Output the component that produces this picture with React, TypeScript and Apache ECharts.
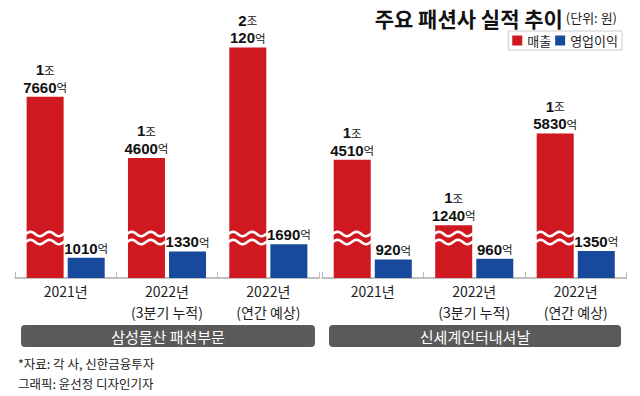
import React, { useEffect, useRef } from 'react';
import * as echarts from 'echarts';

const categories = ['2021년', '2022년\n(3분기 누적)', '2022년\n(연간 예상)'];
const samsungSales = [17660, 14600, 20120];
const samsungProfit = [1010, 1330, 1690];
const shinsegaeSales = [14510, 11240, 15830];
const shinsegaeProfit = [920, 960, 1350];
const panelNames = ['삼성물산 패션부문', '신세계인터내셔날'];
const seriesNames = ['매출', '영업이익'];
const titleText = '주요 패션사 실적 추이';
const unitText = '(단위: 원)';
const sourceLines = ['*자료: 각 사, 신한금융투자', '그래픽: 윤선정 디자인기자'];
const breakStart = 2000;
const breakEnd = 10600;
const axisMax = 21000;

const RED = '#cf1820';
const BLUE = '#17499c';
const KR = "'Noto Sans CJK KR', 'Noto Sans', sans-serif";
const NUM = "'Liberation Sans', Arial, sans-serif";

function salesLabel(v: number): string {
  const jo = Math.floor(v / 10000);
  const eok = v % 10000;
  return `{n|${jo}}{u|조}\n{n|${eok}}{u|억}`;
}
function profitLabel(v: number): string {
  return `{n|${v}}{u|억}`;
}

const rich = {
  n: { fontSize: 15, fontWeight: 'bold', fontFamily: NUM, color: '#111', lineHeight: 17.5 },
  u: { fontSize: 11.5, fontFamily: KR, color: '#111', lineHeight: 17.5 },
};

const BAR_W = 37;
const RED_OFFSET = -20.5;

function waveRender(params: any, api: any) {
  const idx = api.value(0);
  const p = api.coord([idx, breakStart]);
  const cx = p[0] + RED_OFFSET;
  const half = 19.5;
  const top: number[][] = [];
  const bot: number[][] = [];
  for (let x = -half; x <= half + 0.01; x += 1) {
    const dy = -2.2 * Math.sin(((x + half) / 19) * 2 * Math.PI);
    top.push([cx + x, p[1] - 4 + dy]);
    bot.push([cx + x, p[1] + 4 + dy]);
  }
  return {
    type: 'group',
    children: [
      { type: 'polyline', shape: { points: top }, style: { stroke: '#fff', lineWidth: 2.6, fill: null } },
      { type: 'polyline', shape: { points: bot }, style: { stroke: '#fff', lineWidth: 2.6, fill: null } },
    ],
  };
}

function panelSeries(gi: number, sales: number[], profit: number[]) {
  return [
    {
      type: 'bar',
      name: seriesNames[0],
      xAxisIndex: gi,
      yAxisIndex: gi,
      data: sales,
      barWidth: BAR_W,
      barGap: '11%',
      itemStyle: { color: RED },
      label: {
        show: true,
        position: 'top',
        distance: 1,
        formatter: (p: any) => salesLabel(p.value),
        rich,
      },
    },
    {
      type: 'bar',
      name: seriesNames[1],
      xAxisIndex: gi,
      yAxisIndex: gi,
      data: profit,
      barWidth: BAR_W,
      barGap: '11%',
      itemStyle: { color: BLUE },
      label: {
        show: true,
        position: 'top',
        distance: 1,
        formatter: (p: any) => profitLabel(p.value),
        rich,
      },
    },
    {
      type: 'custom',
      xAxisIndex: gi,
      yAxisIndex: gi,
      z: 5,
      silent: true,
      data: sales.map((_, i) => [i, breakStart]),
      renderItem: waveRender,
    },
  ];
}

export default function App() {
  const ref = useRef<HTMLDivElement>(null);
  useEffect(() => {
    document.body.style.margin = '0';
    if (!ref.current) return;
    const chart = echarts.init(ref.current, null, { renderer: 'svg' });
    const xAxisBase = {
      type: 'category',
      data: categories,
      axisLine: { lineStyle: { color: '#aaa', width: 1.5 } },
      axisTick: { show: true, inside: true, length: 6, lineStyle: { color: '#bbb' } },
      axisLabel: { interval: 0, fontSize: 14, lineHeight: 20.5, color: '#222', fontFamily: KR, margin: 3 },
    };
    const yAxisBase = {
      type: 'value',
      min: 0,
      max: axisMax,
      breaks: [{ start: breakStart, end: breakEnd, gap: 0 }],
      breakArea: { show: false },
      axisLine: { show: false },
      axisTick: { show: false },
      axisLabel: { show: false },
      splitLine: { show: false },
    };
    chart.setOption({
      animation: false,
      backgroundColor: '#fff',
      title: {
        text: `{a|${titleText}}{b| ${unitText}}`,
        right: 18,
        top: 2,
        textStyle: {
          rich: {
            a: { fontSize: 21, fontWeight: 'bold', fontFamily: KR, color: '#111' },
            b: { fontSize: 13, fontWeight: 'normal', fontFamily: KR, color: '#222' },
          },
        },
      },
      legend: {
        data: seriesNames,
        right: 18,
        top: 31,
        icon: 'rect',
        itemWidth: 10,
        itemHeight: 10,
        itemGap: 4,
        padding: [3, 4, 3, 4],
        borderColor: '#ccc',
        borderWidth: 1,
        textStyle: { fontSize: 13, fontFamily: KR, color: '#222' },
      },
      grid: [
        { left: 15, width: 304, top: 30, bottom: 118 },
        { left: 322, width: 304.5, top: 30, bottom: 118 },
      ],
      xAxis: [
        { ...xAxisBase, gridIndex: 0 },
        { ...xAxisBase, gridIndex: 1 },
      ],
      yAxis: [
        { ...yAxisBase, gridIndex: 0 },
        { ...yAxisBase, gridIndex: 1 },
      ],
      series: [
        ...panelSeries(0, samsungSales, samsungProfit),
        ...panelSeries(1, shinsegaeSales, shinsegaeProfit),
      ],
      graphic: [
        { type: 'rect', shape: { x: 21, y: 325, width: 294, height: 22, r: 4 }, style: { fill: '#5a5a5a' } },
        { type: 'rect', shape: { x: 329, y: 325, width: 292, height: 22, r: 4 }, style: { fill: '#5a5a5a' } },
        {
          type: 'text', x: 168, y: 336,
          style: { text: panelNames[0], fill: '#fff', fontSize: 15, fontFamily: KR, align: 'center', verticalAlign: 'middle' },
        },
        {
          type: 'text', x: 475, y: 336,
          style: { text: panelNames[1], fill: '#fff', fontSize: 15, fontFamily: KR, align: 'center', verticalAlign: 'middle' },
        },
        {
          type: 'text', x: 18, y: 363,
          style: { text: sourceLines[0], fill: '#222', fontSize: 12.5, fontFamily: KR, verticalAlign: 'middle' },
        },
        {
          type: 'text', x: 18, y: 383,
          style: { text: sourceLines[1], fill: '#222', fontSize: 12.5, fontFamily: KR, verticalAlign: 'middle' },
        },
      ],
    });
    return () => chart.dispose();
  }, []);
  return <div ref={ref} style={{ width: 640, height: 396 }} />;
}
